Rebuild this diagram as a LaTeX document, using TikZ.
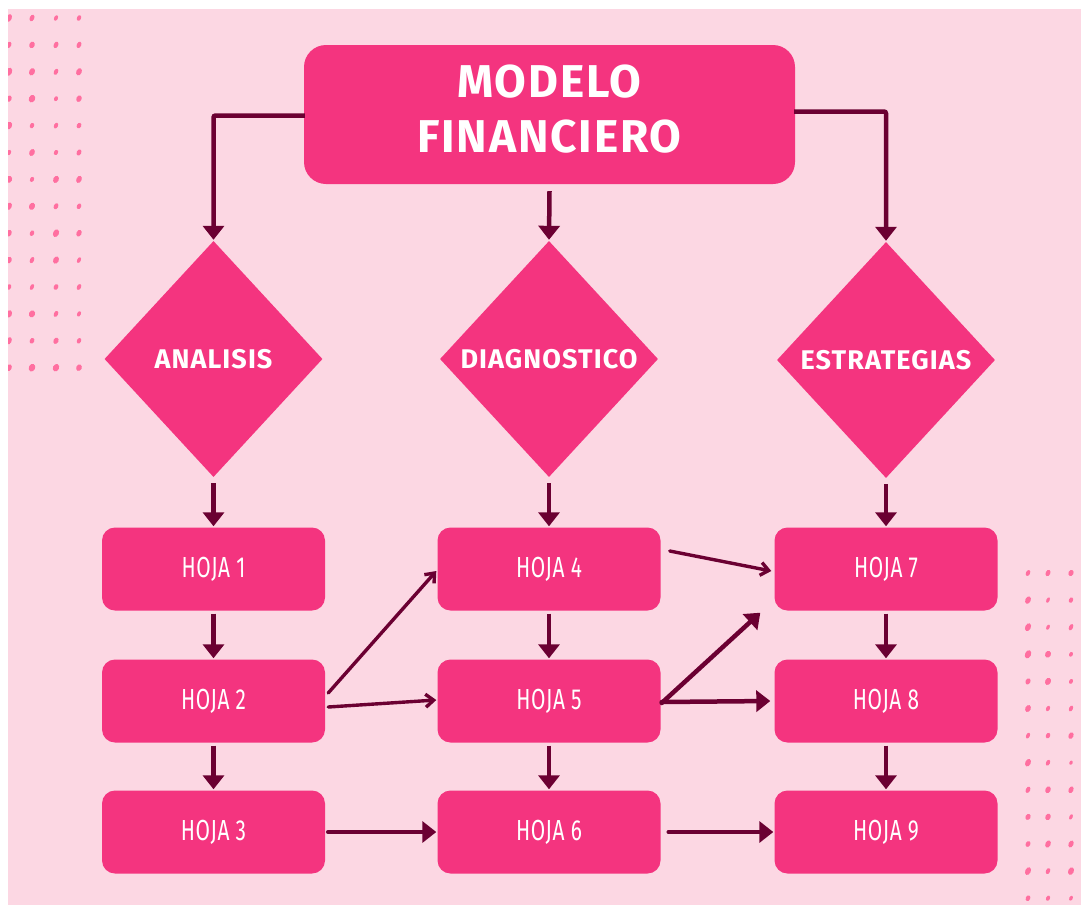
\documentclass[tikz,border=0pt]{standalone}
\usepackage{fontspec}
\setmainfont{Fira Sans}
\newfontfamily\titlefont{Fira Sans}[LetterSpace=4]
\newfontfamily\diafont{Fira Sans}[LetterSpace=4]
\newfontfamily\hojafont{Fira Sans}[FakeStretch=0.72,LetterSpace=2]
\usetikzlibrary{shapes.geometric,arrows.meta,calc}
\definecolor{bgpink}{HTML}{FCD7E3}
\definecolor{hot}{HTML}{F4347F}
\definecolor{wine}{HTML}{6B0032}
\definecolor{dotpink}{HTML}{FF6FA0}
\tikzset{
  box/.style={fill=hot, rounded corners=13pt, minimum width=223pt, minimum height=83pt, inner sep=0pt, text=white, font=\hojafont\fontsize{29}{29}\selectfont},
  titlebox/.style={fill=hot, rounded corners=22pt, minimum width=491pt, minimum height=139pt, inner sep=0pt},
  ttext/.style={text=white, align=center, inner sep=0pt, font=\titlefont\bfseries\fontsize{46}{55}\selectfont},
  dia/.style={diamond, fill=hot, minimum width=218pt, minimum height=236pt, inner sep=0pt},
  dtext/.style={text=white, inner sep=0pt, font=\diafont\bfseries\fontsize{27}{27}\selectfont},
  thk/.style={draw=wine, line width=4.5pt, -{Triangle[width=21pt,length=14pt]}},
  thn/.style={draw=wine, line width=3.4pt, line cap=round, -{Straight Barb[width=13pt,length=8pt]}},
  dotf/.style={fill=dotpink}
}
\begin{document}
\begin{tikzpicture}[x=1pt,y=-1pt]
\useasboundingbox (0,0) rectangle (1081,905);
\fill[white] (0,0) rectangle (1081,905);
\fill[bgpink] (8,9) rectangle (1081,905);
% dots
\pgfmathsetseed{11}
\begin{scope}
\clip (8,9) rectangle (1081,905);
\foreach \r in {0,...,13} {
  \foreach \x in {9,32,56,79} {
    \pgfmathsetmacro\yy{18+26.9*\r}
    \pgfmathsetmacro\rx{1.8+1.4*rnd}
    \pgfmathsetmacro\ry{\rx+0.6+0.8*rnd}
    \fill[dotf, rotate around={-25:(\x,\yy)}] (\x,\yy) ellipse [x radius=\rx pt, y radius=\ry pt];
  }
}
\foreach \r in {0,...,12} {
  \foreach \x in {1028,1048,1071} {
    \pgfmathsetmacro\yy{573+27.1*\r}
    \pgfmathsetmacro\rx{1.6+1.4*rnd}
    \pgfmathsetmacro\ry{\rx+0.6+0.8*rnd}
    \fill[dotf, rotate around={-25:(\x,\yy)}] (\x,\yy) ellipse [x radius=\rx pt, y radius=\ry pt];
  }
}
\end{scope}
% nodes
\node[titlebox] (t) at (549.5,114.5) {};
\node[ttext] (tt) at (549.5,109) {MODELO\\FINANCIERO};
\node[dia] (d1) at (213.5,359) {};
\node[dia] (d2) at (549,359) {};
\node[dia] (d3) at (886,360) {};
\node[dtext] (l1) at (d1.center) {ANALISIS};
\node[dtext] (l2) at (d2.center) {DIAGNOSTICO};
\node[dtext] (l3) at (d3.center) {ESTRATEGIAS};
\node[box] (h1) at (213.5,569) {HOJA 1};
\node[box] (h2) at (213.5,701) {HOJA 2};
\node[box] (h3) at (213.5,832) {HOJA 3};
\node[box] (h4) at (549,569) {HOJA 4};
\node[box] (h5) at (549,701) {HOJA 5};
\node[box] (h6) at (549,832) {HOJA 6};
\node[box] (h7) at (886,569) {HOJA 7};
\node[box] (h8) at (886,701) {HOJA 8};
\node[box] (h9) at (886,832) {HOJA 9};
% connectors from title
\draw[thk, rounded corners=2pt] ($(t.west)+(1,1)$) -| ($(d1.north)+(0,-1)$);
\draw[thk, rounded corners=2pt] ($(t.east)+(-1,-3)$) -| ($(d3.north)+(0,-1)$);
\draw[thk] ($(t.south)+(0,7)$) -- ($(d2.north)+(0,-1)$);
% diamonds to boxes
\foreach \a/\b in {d1/h1,d2/h4,d3/h7} {
  \draw[thk] ($(\a.south)+(0,6)$) -- ($(\b.north)+(0,-1)$);
}
% vertical box arrows
\foreach \a/\b in {h1/h2,h2/h3,h4/h5,h5/h6,h7/h8,h8/h9} {
  \draw[thk] ($(\a.south)+(0,3)$) -- ($(\b.north)+(0,-1)$);
}
% horizontal / diagonal arrows
\draw[thn] ($(h2.east)+(3,-8)$) -- ($(h4.west)+(-1,2)$);
\draw[thn] ($(h2.east)+(3,6)$) -- ($(h5.west)+(-1,-1)$);
\draw[thn] ($(h4.east)+(9,-18)$) -- ($(h7.west)+(-3,2)$);
\draw[thk, line cap=round] ($(h5.east)+(1,2)$) -- ($(h7.south west)+(-14,2)$);
\draw[thk, line cap=round] ($(h5.east)+(1,1)$) -- ($(h8.west)+(-4,0)$);
\draw[thk, line cap=round] ($(h3.east)+(3,0)$) -- ($(h6.west)+(-1,0)$);
\draw[thk, line cap=round] ($(h6.east)+(8,0)$) -- ($(h9.west)+(-1,0)$);
\end{tikzpicture}
\end{document}
